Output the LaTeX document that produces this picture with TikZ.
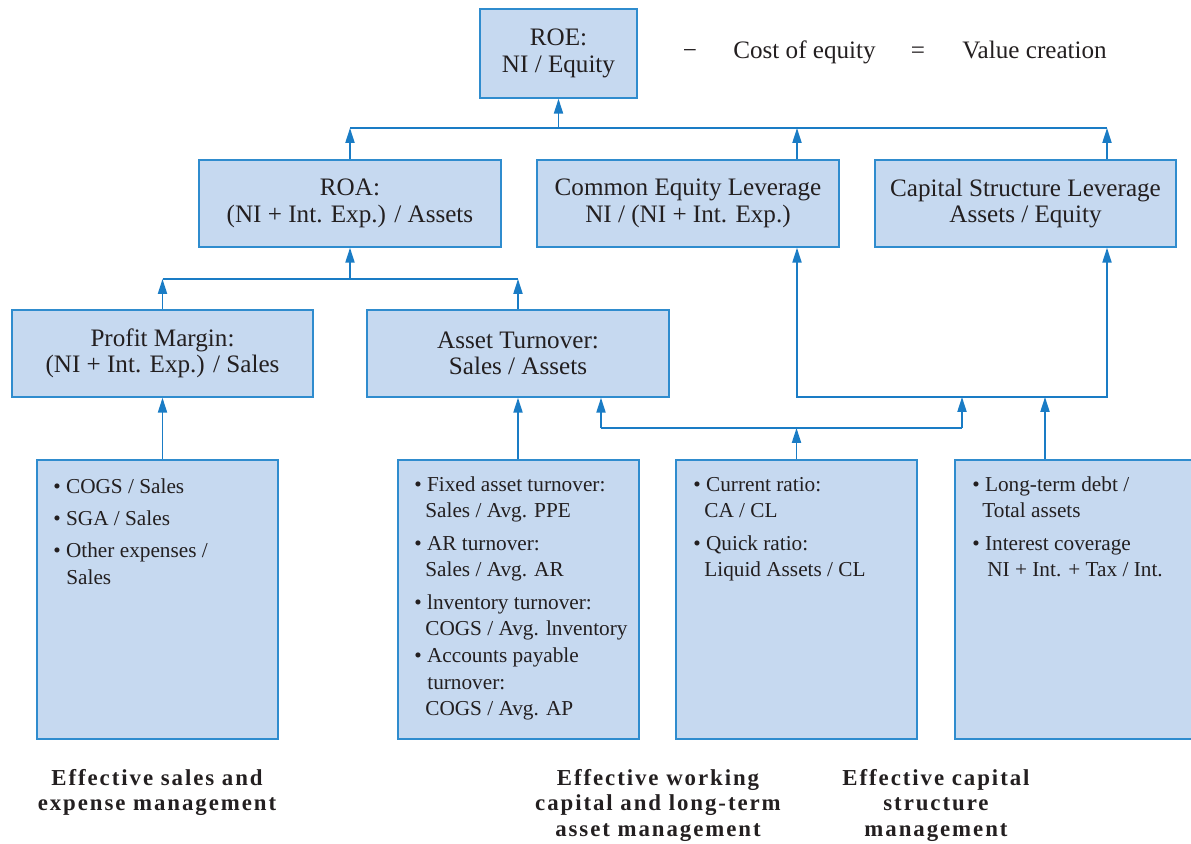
\documentclass[tikz,border=0pt]{standalone}
\usepackage{fontspec}
\setmainfont{Liberation Serif}
\newfontfamily\labelfont{Liberation Serif}[LetterSpace=8.5]
\usetikzlibrary{arrows.meta}

\definecolor{boxfill}{HTML}{C6D9F0}
\definecolor{boxline}{HTML}{2F8CCE}
\definecolor{wirecol}{HTML}{1A7CC5}
\definecolor{ink}{HTML}{231F20}

\tikzset{
  x=0.02cm, y=-0.02cm,
  box/.style={draw=boxline, fill=boxfill, line width=0.85pt, inner sep=0pt,
    align=center, text=ink, font=\fontsize{14.3}{15}\selectfont},
  item/.style={anchor=base west, inner sep=0pt, text=ink,
    font=\fontsize{12.1}{14}\selectfont},
  eqtext/.style={inner sep=0pt, text=ink, font=\fontsize{14.3}{15}\selectfont},
  areatitle/.style={anchor=north, inner sep=0pt, align=center, text=ink,
    font=\labelfont\bfseries\fontsize{13}{14.46}\selectfont},
  wire/.style={draw=wirecol, line width=0.9pt},
  arr/.style={wire, -{Triangle[length=8.5pt,width=5.2pt]}},
  arrboth/.style={wire, {Triangle[length=8.5pt,width=5.2pt]}-{Triangle[length=8.5pt,width=5.2pt]}},
}

\begin{document}
\begin{tikzpicture}
\useasboundingbox (0,0) rectangle (1191,843);

% ratio boxes
\node[box, minimum width=3.14cm, minimum height=1.78cm] (roe) at (558.5,53.5) {ROE:\\NI / Equity};
\node[box, minimum width=6.04cm, minimum height=1.74cm] (roa) at (350,203.5) {ROA:\\(NI + Int. Exp.) / Assets};
\node[box, minimum width=6.04cm, minimum height=1.74cm] (cel) at (688,203.5) {Common Equity Leverage\\NI / (NI + Int. Exp.)};
\node[box, minimum width=6.02cm, minimum height=1.74cm] (csl) at (1025.5,203.5) {Capital Structure Leverage\\Assets / Equity};
\node[box, minimum width=6.02cm, minimum height=1.74cm] (pm) at (162.5,353.5) {Profit Margin:\\(NI + Int. Exp.) / Sales};
\node[box, minimum width=6.04cm, minimum height=1.74cm] (at) at (518,353.5) {Asset Turnover:\\Sales / Assets};

% driver boxes
\node[box, minimum width=4.82cm, minimum height=5.58cm] (b1) at (157.5,599.5) {};
\node[box, minimum width=4.82cm, minimum height=5.58cm] (b2) at (518.5,599.5) {};
\node[box, minimum width=4.82cm, minimum height=5.58cm] (b3) at (796.5,599.5) {};
\node[box, minimum width=5.00cm, minimum height=5.58cm] (b4) at (1080,599.5) {};

% equation beside ROE
\node[eqtext, anchor=base] (minus) at (690,58) {−};
\node[eqtext, anchor=base west] (coe) at (733,58) {Cost of equity};
\node[eqtext, anchor=base] (equals) at (918,58) {=};
\node[eqtext, anchor=base west] (vc) at (962,58) {Value creation};

% driver lists
\node[item] (b1a) at (53,493) {\textbullet\ COGS / Sales};
\node[item] (b1b) at (53,525) {\textbullet\ SGA / Sales};
\node[item] (b1c) at (53,557) {\textbullet\ Other expenses /};
\node[item] (b1d) at (66,584) {Sales};

\node[item] (b2a) at (414,491) {\textbullet\ Fixed asset turnover:};
\node[item] (b2b) at (425,517) {Sales / Avg. PPE};
\node[item] (b2c) at (414,550) {\textbullet\ AR turnover:};
\node[item] (b2d) at (425,576) {Sales / Avg. AR};
\node[item] (b2e) at (414,609) {\textbullet\ lnventory turnover:};
\node[item] (b2f) at (425,635) {COGS / Avg. lnventory};
\node[item] (b2g) at (414,662) {\textbullet\ Accounts payable};
\node[item] (b2h) at (427,689) {turnover:};
\node[item] (b2i) at (425,715) {COGS / Avg. AP};

\node[item] (b3a) at (693,491) {\textbullet\ Current ratio:};
\node[item] (b3b) at (704,517) {CA / CL};
\node[item] (b3c) at (693,550) {\textbullet\ Quick ratio:};
\node[item] (b3d) at (704,576) {Liquid Assets / CL};

\node[item] (b4a) at (972,491) {\textbullet\ Long-term debt /};
\node[item] (b4b) at (982,517) {Total assets};
\node[item] (b4c) at (972,550) {\textbullet\ Interest coverage};
\node[item] (b4d) at (987,576) {NI + Int. + Tax / Int.};

% area titles
\node[areatitle] (t1) at (157,769) {Effective sales and\\expense management};
\node[areatitle] (t2) at (658,769) {Effective working\\capital and long-term\\asset management};
\node[areatitle] (t3) at (936,769) {Effective capital\\structure\\management};

% junction points
\coordinate (up1) at (797,128);
\coordinate (up2) at (1107,128);
\coordinate (mid) at (0,279);
\coordinate (w1) at (601,428);
\coordinate (w2) at (962,428);
\coordinate (c1) at (797,397);
\coordinate (c2) at (1107,397);
\coordinate (k4) at (1045,0);

% top level
\draw[wire] (roa.north |- up1) -- (up2);
\draw[arr] (roe.south |- up1) -- (roe.south);
\draw[arr] (roa.north) -- (roa.north |- up1);
\draw[arr] (up1 |- cel.north) -- (up1);
\draw[arr] (up2 |- csl.north) -- (up2);

% ROA drivers
\draw[wire] (pm.north |- mid) -- (at.north |- mid);
\draw[arr] (roa.south |- mid) -- (roa.south);
\draw[arr] (pm.north) -- (pm.north |- mid);
\draw[arr] (at.north) -- (at.north |- mid);

% operating drivers
\draw[arr] (pm.south |- b1.north) -- (pm.south);
\draw[arr] (at.south |- b2.north) -- (at.south);

% working capital links
\draw[wire] (w1) -- (w2);
\draw[arr] (w1) -- (w1 |- at.south);
\draw[arr] (w2) -- (w2 |- c1);
\draw[arr] (b3.north) -- (b3.north |- w1);

% leverage links
\draw[arrboth] (c1 |- cel.south) -- (c1) -- (c2) -- (c2 |- csl.south);
\draw[arr] (k4 |- b4.north) -- (k4 |- c1);
\end{tikzpicture}
\end{document}
